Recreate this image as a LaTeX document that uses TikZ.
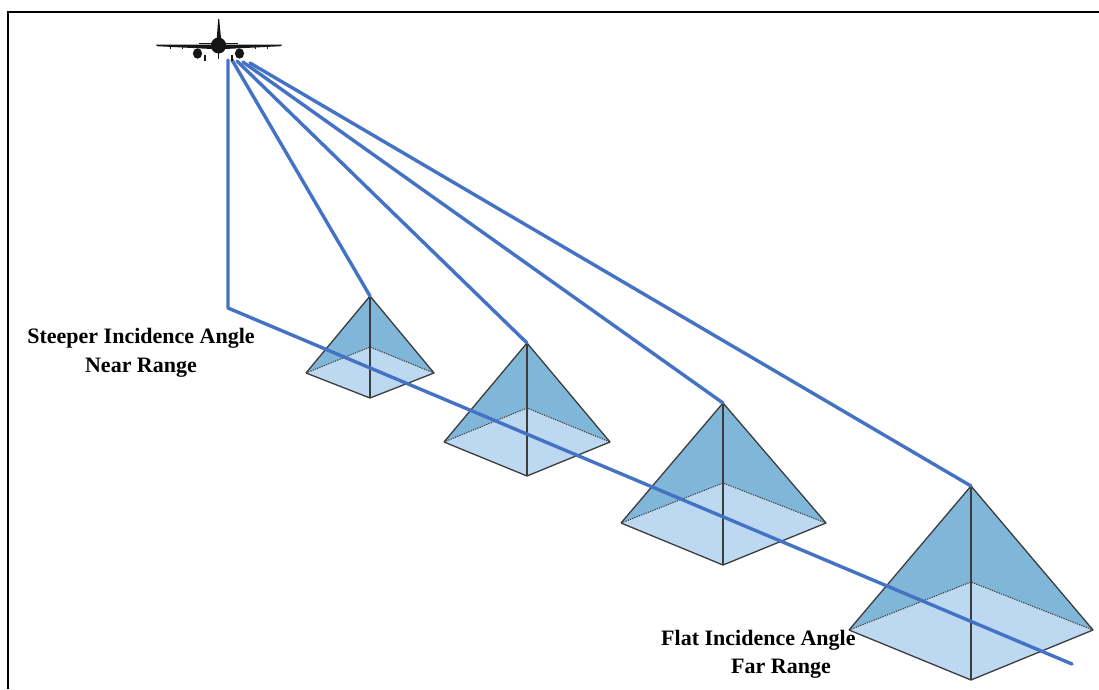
\documentclass[tikz,border=0pt]{standalone}
\usepackage{fontspec}
\setmainfont{Liberation Serif}
\begin{document}
\begin{tikzpicture}[x=1pt,y=-1pt,
  beam/.style={draw=beamblue,line width=3.4pt,line cap=round,line join=round},
  edge/.style={draw=edgegray,line width=1.3pt,line join=round},
  backedge/.style={draw=edgegray,line width=1.1pt,dash pattern=on 1.2pt off 1.2pt},
  label/.style={font=\bfseries\fontsize{22}{29}\selectfont,inner sep=0pt,align=center},
  plane/.style={fill=planeblack,draw=none}]
\definecolor{beamblue}{RGB}{68,114,196}
\definecolor{sidefill}{RGB}{128,182,216}
\definecolor{basefill}{RGB}{189,217,242}
\definecolor{edgegray}{RGB}{60,60,60}
\definecolor{planeblack}{RGB}{22,22,22}
\useasboundingbox (0,0) rectangle (1099,689);
\fill[white] (0,0) rectangle (1099,689);

% frame
\draw[line width=2.4pt] (8,689) -- (8,12) -- (1099,12);

% pyramid: apex, left, front, right, back
\newcommand{\pyr}[6]{%
  \coordinate (#1-a) at #2; \coordinate (#1-l) at #3; \coordinate (#1-f) at #4;
  \coordinate (#1-r) at #5; \coordinate (#1-b) at #6;
  \fill[basefill] (#1-l) -- (#1-f) -- (#1-r) -- (#1-b) -- cycle;
  \fill[sidefill] (#1-a) -- (#1-l) -- (#1-b) -- (#1-r) -- cycle;
  \draw[backedge] (#1-l) -- (#1-b) -- (#1-r);
  \draw[edge] (#1-l) -- (#1-a) -- (#1-r) -- (#1-f) -- (#1-l);
  \draw[edge] (#1-a) -- (#1-f);}
\pyr{p1}{(370,296)}{(306,373)}{(370,398)}{(434,373)}{(370,347)}
\pyr{p2}{(527,343)}{(444,442)}{(527,476)}{(610,442)}{(527,408)}
\pyr{p3}{(723,403)}{(621,523)}{(723,565)}{(826,523)}{(723,483)}
\pyr{p4}{(971,486)}{(849,630)}{(971,680)}{(1093,630)}{(971,582)}

% beam origins under the aircraft
\coordinate (s0) at (228,60);
\coordinate (s1) at (232,60);
\coordinate (s2) at (237,61);
\coordinate (s3) at (243,62);
\coordinate (s4) at (250,63);
\coordinate (corner) at (228,308);
\coordinate (trackend) at (1072,664);

% nadir line and ground track
\draw[beam] (s0) -- (corner) -- (trackend);
% slant beams to the pyramid tops
\draw[beam] (s1) -- (p1-a);
\draw[beam] (s2) -- (p2-a);
\draw[beam] (s3) -- (p3-a);
\draw[beam] (s4) -- (p4-a);

% aircraft, front view
\begin{scope}
  \fill[plane] (199,42.8) -- (238,42.8) -- (238,44.3) -- (199,44.3) -- cycle;
  \fill[plane] (216.8,38) -- (218.2,19) -- (219.2,19) -- (221,38) -- cycle;
  \fill[plane] (212,49) -- (157,46.2) -- (156,44.6) -- (212,44.5) -- cycle;
  \fill[plane] (225,49) -- (281,46.2) -- (282,44.6) -- (225,44.5) -- cycle;
  \fill[plane] (218.5,45.5) ellipse (7.6 and 8);
  \fill[plane] (197.5,53.5) ellipse (4.6 and 5.2);
  \fill[plane] (239.5,53.5) ellipse (4.6 and 5.2);
  \draw[planeblack,line width=1.1pt] (205,55) -- (205,61) (218.5,52) -- (218.5,59) (232,55) -- (232,61);
  \draw[planeblack,line width=0.8pt] (170,45.5) -- (170,48.5) (182,46) -- (182,49) (255,46) -- (255,49) (267,45.5) -- (267,48.5);
\end{scope}

% labels
\node[label,anchor=base] (near) at (141,372) {Steeper Incidence Angle\\Near Range};
\node[label,anchor=base west] (far1) at (661,645) {Flat Incidence Angle};
\node[label,anchor=base west] (far2) at (731,673) {Far Range};
\end{tikzpicture}
\end{document}
